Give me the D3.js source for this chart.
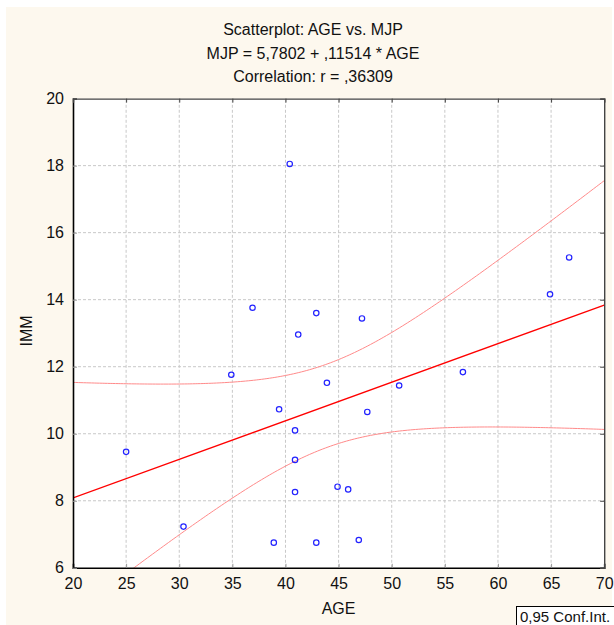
<!DOCTYPE html>
<html>
<head>
<meta charset="utf-8">
<script src="https://cdn.jsdelivr.net/npm/d3@7"></script>
<style>
  body { margin: 0; background: #ffffff; }
  svg { display: block; font-family: "Liberation Sans", Arial, sans-serif; }
  .grid line { stroke: #c8c8c8; stroke-dasharray: 3,2; }
</style>
</head>
<body>
<div id="chart"></div>
<script>
// data
var age = [25.0, 34.9, 43.9, 50.7, 56.7, 39.4, 47.7, 40.9, 40.9, 40.9, 44.9, 45.9,
           30.4, 38.9, 42.9, 46.9, 40.4, 36.9, 42.9, 47.2, 41.2, 64.9, 66.7];
var imm = [9.46, 11.76, 11.52, 11.44, 11.84, 10.73, 10.65, 10.10, 9.22, 8.26, 8.42, 8.34,
           7.23, 6.75, 6.75, 6.83, 18.05, 13.76, 13.60, 13.44, 12.96, 14.16, 15.26];
var fitCoef = [5.7802, 0.11514];   // intercept, slope
var xTicks = [20, 25, 30, 35, 40, 45, 50, 55, 60, 65, 70];
var yTicks = [6, 8, 10, 12, 14, 16, 18, 20];
var titleLines = ["Scatterplot: AGE vs. MJP", "MJP = 5,7802 + ,11514 * AGE", "Correlation: r = ,36309"];

var W = 614, H = 625;
var margin = { top: 98.6, right: 614 - 604.2, bottom: 625 - 567.8, left: 73 };

var svg = d3.select("#chart").append("svg").attr("width", W).attr("height", H);

// cream panel
svg.append("rect").attr("x", 6).attr("y", 7).attr("width", 606).attr("height", H - 7)
  .attr("fill", "#fdf8ee");

var x = d3.scaleLinear().domain([20, 70]).range([margin.left, W - margin.right]);
var y = d3.scaleLinear().domain([6, 20]).range([H - margin.bottom, margin.top]);

svg.append("rect").attr("x", x(20)).attr("y", y(20))
  .attr("width", x(70) - x(20)).attr("height", y(6) - y(20)).attr("fill", "#ffffff");

svg.append("clipPath").attr("id", "clip").append("rect")
  .attr("x", x(20)).attr("y", y(20)).attr("width", x(70) - x(20)).attr("height", y(6) - y(20));

// grid
var grid = svg.append("g").attr("class", "grid");
grid.selectAll(".gx").data(xTicks.slice(1, -1)).enter().append("line")
  .attr("x1", function(d) { return x(d); }).attr("x2", function(d) { return x(d); })
  .attr("y1", y(6)).attr("y2", y(20));
grid.selectAll(".gy").data(yTicks.slice(1, -1)).enter().append("line")
  .attr("y1", function(d) { return y(d); }).attr("y2", function(d) { return y(d); })
  .attr("x1", x(20)).attr("x2", x(70));

// confidence band for the fitted line
var n = age.length;
var xbar = d3.mean(age);
var sxx = d3.sum(age, function(d) { return (d - xbar) * (d - xbar); });
var fit = function(v) { return fitCoef[0] + fitCoef[1] * v; };
var sse = d3.sum(age, function(d, i) { var r = imm[i] - fit(d); return r * r; });
var s = Math.sqrt(sse / (n - 2));
var tcrit = 2.0796;
var band = function(v) { return tcrit * s * Math.sqrt(1 / n + (v - xbar) * (v - xbar) / sxx); };
var xs = d3.range(20, 70.01, 0.25);

var plot = svg.append("g").attr("clip-path", "url(#clip)");
var line = d3.line().x(function(d) { return x(d[0]); }).y(function(d) { return y(d[1]); });

plot.append("path")
  .attr("d", line(xs.map(function(v) { return [v, fit(v) + band(v)]; })))
  .attr("fill", "none").attr("stroke", "#ff8a8a").attr("stroke-width", 1);
plot.append("path")
  .attr("d", line(xs.map(function(v) { return [v, fit(v) - band(v)]; })))
  .attr("fill", "none").attr("stroke", "#ff8a8a").attr("stroke-width", 1);
plot.append("path")
  .attr("d", line([[20, fit(20)], [70, fit(70)]]))
  .attr("fill", "none").attr("stroke", "#ff0000").attr("stroke-width", 1.3);

// points
svg.append("g").selectAll("circle").data(age).enter().append("circle")
  .attr("cx", function(d) { return x(d); })
  .attr("cy", function(d, i) { return y(imm[i]); })
  .attr("r", 2.7)
  .attr("fill", "none").attr("stroke", "#2222ff").attr("stroke-width", 1.2);

// axes
var axB = svg.append("g").attr("transform", "translate(0," + y(6) + ")")
  .call(d3.axisBottom(x).tickValues(xTicks).tickSize(-4).tickPadding(10));
var axL = svg.append("g").attr("transform", "translate(" + x(20) + ",0)")
  .call(d3.axisLeft(y).tickValues(yTicks).tickSize(-4).tickPadding(9));
var axT = svg.append("g").attr("transform", "translate(0," + y(20) + ")")
  .call(d3.axisTop(x).tickValues(xTicks).tickSize(-4).tickFormat(""));
var axR = svg.append("g").attr("transform", "translate(" + x(70) + ",0)")
  .call(d3.axisRight(y).tickValues(yTicks).tickSize(-4).tickFormat(""));

[axB, axL].forEach(function(a) {
  a.select(".domain").attr("stroke", "#000").attr("stroke-width", 1.6);
  a.selectAll(".tick line").attr("stroke", "#999");
  a.selectAll("text").attr("font-size", 16).attr("fill", "#111")
    .attr("font-family", "Liberation Sans, Arial, sans-serif");
});
[axT, axR].forEach(function(a) {
  a.select(".domain").attr("stroke", "#444").attr("stroke-width", 1.4);
  a.selectAll(".tick line").attr("stroke", "#444");
});

// titles
svg.append("g").selectAll("text").data(titleLines).enter().append("text")
  .attr("x", 313).attr("y", function(d, i) { return 35 + i * 23.5; })
  .attr("text-anchor", "middle").attr("font-size", 16).attr("fill", "#111")
  .text(function(d) { return d; });

svg.append("text").attr("x", x(45)).attr("y", 614)
  .attr("text-anchor", "middle").attr("font-size", 16).attr("fill", "#111").text("AGE");
svg.append("text").attr("transform", "translate(32,331) rotate(-90)")
  .attr("text-anchor", "middle").attr("font-size", 16).attr("fill", "#111").text("IMM");

// legend box
svg.append("rect").attr("x", 516.5).attr("y", 606.5).attr("width", 110).attr("height", 25)
  .attr("fill", "#ffffff").attr("stroke", "#000").attr("stroke-width", 1);
svg.append("text").attr("x", 520).attr("y", 622).attr("font-size", 15).attr("fill", "#111")
  .text("0,95 Conf.Int.");
</script>
</body>
</html>
